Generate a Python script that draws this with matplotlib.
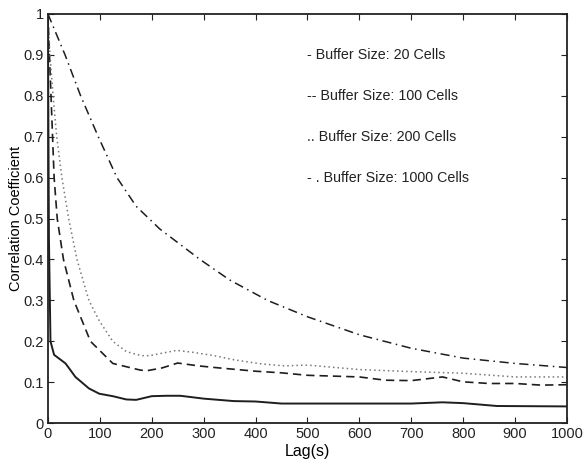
import numpy as np
import matplotlib
matplotlib.use("Agg")
import matplotlib.pyplot as plt

plt.rcParams['font.family'] = ['Liberation Sans', 'DejaVu Sans']

# buffer size 20 cells
lag20 = [0, 2, 5, 12, 34, 53, 79, 99, 125, 151, 170, 200, 229, 255, 300, 358, 400, 450,
         500, 600, 700, 760, 800, 865, 1000]
cc20 = [1.0, 0.45, 0.2, 0.167, 0.146, 0.113, 0.085, 0.072, 0.066, 0.058, 0.057, 0.066,
        0.067, 0.067, 0.06, 0.054, 0.053, 0.048, 0.048, 0.048, 0.048, 0.051, 0.049,
        0.042, 0.041]

# buffer size 100 cells
lag100 = [0, 3, 9, 12, 18, 21, 30, 50, 82, 125, 177, 190, 220, 250, 290, 330, 400, 450,
          500, 600, 650, 700, 760, 800, 850, 900, 950, 1000]
cc100 = [1.0, 0.9, 0.7, 0.6, 0.5, 0.475, 0.4, 0.3, 0.2, 0.146, 0.13, 0.128, 0.135,
         0.147, 0.14, 0.135, 0.127, 0.123, 0.117, 0.113, 0.105, 0.104, 0.113, 0.101,
         0.097, 0.097, 0.093, 0.094]

# buffer size 200 cells
lag200 = [0, 4, 10, 17, 27, 40, 56, 79, 99, 125, 151, 180, 196, 216, 248, 280, 320, 358,
          410, 456, 500, 600, 700, 800, 900, 1000]
cc200 = [1.0, 0.9, 0.8, 0.7, 0.6, 0.5, 0.4, 0.3, 0.25, 0.2, 0.175, 0.165, 0.165, 0.17,
         0.178, 0.173, 0.165, 0.155, 0.145, 0.14, 0.142, 0.131, 0.126, 0.122, 0.113, 0.113]

# buffer size 1000 cells
lag1000 = [0, 33, 63, 97, 133, 170, 215, 293, 350, 423, 500, 600, 700, 800, 900, 1000]
cc1000 = [1.0, 0.9, 0.8, 0.7, 0.6, 0.53, 0.475, 0.4, 0.35, 0.3, 0.26, 0.216, 0.183,
          0.159, 0.146, 0.136]

xticks = [0, 100, 200, 300, 400, 500, 600, 700, 800, 900, 1000]
yticks = [0, 0.1, 0.2, 0.3, 0.4, 0.5, 0.6, 0.7, 0.8, 0.9, 1]
ylabels = ['0', '0.1', '0.2', '0.3', '0.4', '0.5', '0.6', '0.7', '0.8', '0.9', '1']
legend_txt = ['- Buffer Size: 20 Cells', '-- Buffer Size: 100 Cells',
              '.. Buffer Size: 200 Cells', '- . Buffer Size: 1000 Cells']
legend_y = [0.9, 0.8, 0.7, 0.6]

fig = plt.figure(figsize=(5.84, 4.62), dpi=100)
ax = fig.add_axes([0.082, 0.084, 0.889, 0.886])

ax.plot(lag20, cc20, color='#1e1e1e', lw=1.4, ls='-')
ax.plot(lag100, cc100, color='#1e1e1e', lw=1.2, ls=(0, (5, 3)))
ax.plot(lag200, cc200, color='#777777', lw=1.1, ls=(0, (1, 2)))
ax.plot(lag1000, cc1000, color='#1e1e1e', lw=1.1, ls=(0, (6, 3, 1, 3)))

for t, yy in zip(legend_txt, legend_y):
    ax.text(500, yy, t, fontsize=10.3, va='center', ha='left', color='#222222')

ax.set_xlim(0, 1000)
ax.set_ylim(0, 1)
ax.set_xticks(xticks)
ax.set_yticks(yticks)
ax.set_yticklabels(ylabels)
ax.tick_params(direction='in', top=True, right=True, labelsize=10.5, length=4,
               colors='#222222', pad=3)
for s in ax.spines.values():
    s.set_color('#222222')
    s.set_linewidth(1.3)
ax.set_xlabel('Lag(s)', fontsize=11.5, labelpad=2)
ax.set_ylabel('Correlation Coefficient', fontsize=10.5, labelpad=0)

fig.savefig('out.png', dpi=100)
